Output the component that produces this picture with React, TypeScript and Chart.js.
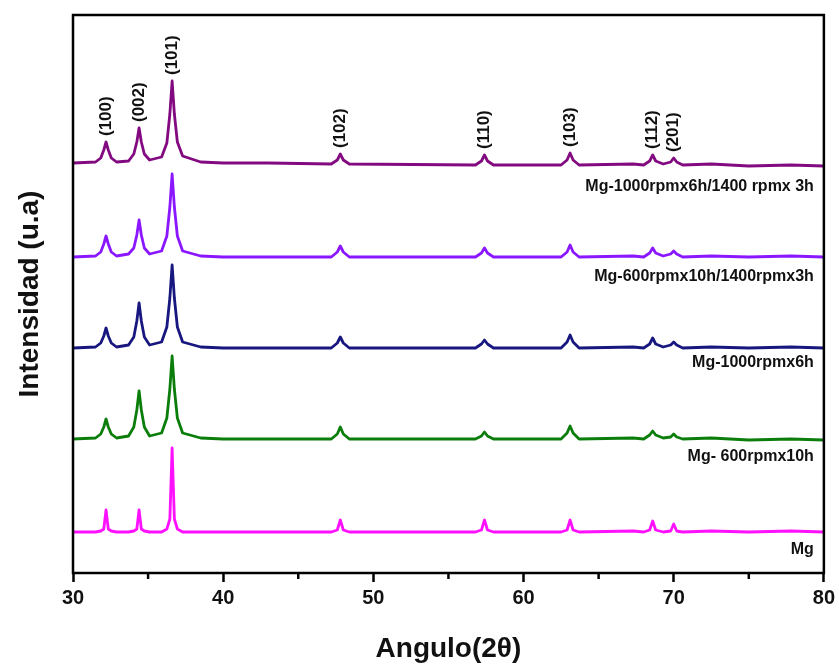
import React, { useEffect, useRef } from 'react';
import { Chart, registerables } from 'chart.js';

Chart.register(...registerables);

// 2θ sampling positions (degrees) shared by all patterns
const angles = [
  30.0,
  31.5, 31.85, 32.05, 32.2, 32.35, 32.55, 32.9,
  33.7, 34.05, 34.25, 34.4, 34.55, 34.75, 35.1,
  35.9, 36.25, 36.45, 36.6, 36.75, 36.95, 37.3,
  38.5, 40.0, 43.0,
  47.2, 47.6, 47.8, 48.0, 48.4,
  56.8, 57.2, 57.4, 57.6, 58.0,
  62.5, 62.9, 63.1, 63.3, 63.7,
  67.3,
  68.0, 68.4, 68.6, 68.8, 69.3,
  69.8, 70.0, 70.2, 70.6,
  72.5, 75.0, 77.8, 80.0,
];

// intensities (a.u., already stacked with vertical offsets)
const mg = [
  41,
  41, 42, 44, 63, 44, 42, 41,
  41, 42, 44, 63, 44, 42, 41,
  41, 44, 54, 125, 54, 44, 41,
  41, 41, 41,
  41, 43, 53, 43, 41,
  41, 43, 53, 43, 41,
  41, 43, 53, 43, 41,
  42,
  41, 43, 52, 43, 41,
  42, 49, 42, 41,
  42, 41, 42, 41,
];
const mg600x10 = [
  134,
  135, 139, 146, 154, 146, 139, 135,
  137, 146, 163, 182, 163, 146, 137,
  140, 155, 184, 217, 184, 155, 140,
  135, 134, 134,
  134, 139, 146, 139, 134,
  134, 137, 141, 137, 134,
  134, 140, 147, 140, 134,
  135,
  134, 138, 142, 138, 135,
  136, 139, 136, 134,
  135, 133, 134, 133,
];
const mg1000x6 = [
  225,
  226, 230, 237, 245, 237, 230, 226,
  228, 236, 252, 270, 252, 236, 228,
  231, 246, 275, 308, 275, 246, 231,
  226, 225, 225,
  225, 230, 236, 230, 225,
  225, 229, 233, 229, 225,
  225, 231, 238, 231, 225,
  226,
  225, 229, 235, 229, 226,
  228, 231, 228, 225,
  226, 225, 226, 225,
];
const mg600x10_1400x3 = [
  316,
  317, 321, 329, 337, 329, 321, 317,
  319, 325, 338, 353, 338, 325, 319,
  322, 337, 366, 399, 366, 337, 322,
  317, 316, 316,
  316, 321, 327, 321, 316,
  316, 320, 325, 320, 316,
  316, 321, 328, 321, 316,
  317,
  316, 320, 325, 320, 317,
  319, 322, 319, 316,
  317, 316, 317, 316,
];
const mg1000x6_1400x3 = [
  410,
  411, 415, 423, 431, 423, 415, 411,
  412, 419, 431, 445, 431, 419, 413,
  416, 430, 459, 492, 459, 431, 417,
  411, 410, 410,
  409, 413, 419, 413, 409,
  408, 412, 418, 412, 408,
  408, 413, 420, 413, 408,
  409,
  408, 412, 418, 412, 409,
  411, 415, 411, 408,
  409, 407, 408, 407,
];

const seriesNames = [
  'Mg',
  'Mg- 600rpmx10h',
  'Mg-1000rpmx6h',
  'Mg-600rpmx10h/1400rpmx3h',
  'Mg-1000rpmx6h/1400 rpmx 3h',
];
const seriesValues = [mg, mg600x10, mg1000x6, mg600x10_1400x3, mg1000x6_1400x3];
const seriesColors = ['#ff10ff', '#0b7d0b', '#17177f', '#8a17ff', '#82097f'];
const seriesLabelOffsets = [18, 17, 15, 20, 21];

// Miller indices and the apex sample index of each reflection
const hklLabels = ['(100)', '(002)', '(101)', '(102)', '(110)', '(103)', '(112)', '(201)'];
const hklIndex = [4, 11, 18, 27, 32, 37, 43, 47];

const xTicksMinor = [35, 45, 55, 65, 75];

const FONT = '"Liberation Sans", Arial, Helvetica, sans-serif';

const annotatePlugin = {
  id: 'annotate',
  afterDraw(chart: any) {
    const { ctx, chartArea: a, scales } = chart;
    const xs = scales.x;
    const ys = scales.y;
    ctx.save();
    ctx.strokeStyle = '#000';
    ctx.lineWidth = 2.5;
    ctx.strokeRect(a.left, a.top, a.right - a.left, a.bottom - a.top);
    for (const v of xTicksMinor) {
      const px = xs.getPixelForValue(v);
      ctx.beginPath();
      ctx.moveTo(px, a.bottom);
      ctx.lineTo(px, a.bottom + 6);
      ctx.stroke();
    }
    ctx.fillStyle = '#111';
    ctx.font = `bold 17px ${FONT}`;
    const top = mg1000x6_1400x3;
    hklLabels.forEach((t, i) => {
      const idx = hklIndex[i];
      const px = xs.getPixelForValue(angles[idx]);
      const py = ys.getPixelForValue(top[idx]) - 6;
      ctx.save();
      ctx.translate(px, py);
      ctx.rotate(-Math.PI / 2);
      ctx.textAlign = 'left';
      ctx.textBaseline = 'middle';
      ctx.fillText(t, 0, 0);
      ctx.restore();
    });
    ctx.font = `bold 16px ${FONT}`;
    ctx.textAlign = 'right';
    ctx.textBaseline = 'middle';
    seriesNames.forEach((name, i) => {
      const vals = seriesValues[i];
      const py = ys.getPixelForValue(vals[vals.length - 1]) + seriesLabelOffsets[i];
      ctx.fillText(name, a.right - 10, py);
    });
    ctx.restore();
  },
};

export default function App() {
  const ref = useRef<HTMLCanvasElement>(null);
  useEffect(() => {
    const datasets = seriesNames.map((name, i) => ({
      label: name,
      data: angles.map((x, j) => ({ x, y: seriesValues[i][j] })),
      borderColor: seriesColors[i],
      backgroundColor: seriesColors[i],
      borderWidth: 2.8,
      borderJoinStyle: 'round',
      pointRadius: 0,
      tension: 0,
      fill: false,
    }));
    const chart = new Chart(ref.current as HTMLCanvasElement, {
      type: 'line',
      data: { datasets },
      options: {
        animation: false,
        responsive: false,
        devicePixelRatio: 1,
        layout: { padding: { top: 15, right: 14, left: 0, bottom: 0 } },
        plugins: {
          legend: { display: false },
          tooltip: { enabled: false },
        },
        scales: {
          x: {
            type: 'linear',
            min: 30,
            max: 80,
            border: { display: false },
            grid: {
              display: true,
              drawOnChartArea: false,
              drawTicks: true,
              tickLength: 9,
              tickWidth: 2.5,
              tickColor: '#000',
            },
            ticks: {
              stepSize: 10,
              padding: 4,
              maxRotation: 0,
              color: '#111',
              font: { family: FONT, size: 20, weight: 'bold' },
            },
            title: {
              display: true,
              text: 'Angulo(2θ)',
              color: '#111',
              font: { family: FONT, size: 28, weight: 'bold' },
              padding: { top: 0, bottom: 0 },
            },
            afterFit: (s: any) => {
              s.height = 93;
            },
          },
          y: {
            type: 'linear',
            min: 0,
            max: 558,
            border: { display: false },
            grid: { display: false, drawTicks: false },
            ticks: { display: false },
            title: {
              display: true,
              text: 'Intensidad (u.a)',
              color: '#111',
              font: { family: FONT, size: 28, weight: 'bold' },
              padding: { top: 13, bottom: 0 },
            },
            afterFit: (s: any) => {
              s.width = 73;
            },
          },
        },
      },
      plugins: [annotatePlugin],
    } as any);
    return () => chart.destroy();
  }, []);
  return (
    <div style={{ position: 'fixed', left: 0, top: 0, width: 839, height: 666, background: '#fff' }}>
      <canvas ref={ref} width={839} height={666} style={{ display: 'block' }} />
    </div>
  );
}
